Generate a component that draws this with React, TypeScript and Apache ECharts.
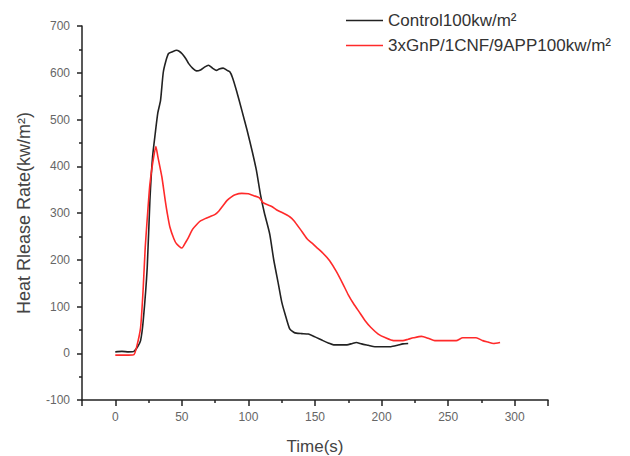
import React, { useEffect, useRef } from "react";
import * as echarts from "echarts";

const controlTime = [0, 5, 10, 14, 17, 19, 21, 24, 26, 28, 30, 32, 34, 36, 38, 40, 43, 46, 48, 50, 53, 55, 58, 61, 64, 67, 70, 73, 76, 78, 81, 84, 86, 88, 91, 95, 99, 103, 106, 109, 112, 116, 119, 122.5, 125, 127.5, 131, 134, 136, 140, 145, 150, 156, 160, 164, 170, 174, 178, 181, 185, 190, 195, 200, 207, 212, 216, 220];
const controlHRR = [3, 4, 3, 4, 15, 27, 70, 184, 327, 420, 470, 515, 541, 600, 625, 641, 645, 648, 646, 641, 630, 620, 610, 604, 606, 612, 616, 610, 605, 608, 610, 605, 602, 590, 562, 520, 477, 430, 391, 340, 300, 255, 200, 148, 110, 84, 52, 45, 43, 42, 41, 35, 27, 22, 18, 18, 18, 21, 23, 20, 17, 14, 14, 14, 17, 20, 21];

const compTime = [0, 5, 10, 14, 16, 19, 21, 22.5, 25, 26, 28, 30.5, 32, 35, 37.5, 39, 41, 44, 46, 50, 53, 55, 58, 61, 64, 67.5, 71, 75, 78, 81, 84, 87, 90, 95, 100, 104, 108, 111, 114, 117.5, 121, 126, 131, 134, 139, 144, 148, 151, 156, 161, 166, 171, 175, 179, 184, 187.5, 192, 197.5, 203, 209, 216, 220, 224, 230, 235, 240, 248, 256, 261, 266, 271, 276, 280, 284, 289];
const compHRR = [-4, -4, -4, -3, 13, 55, 141, 227, 327, 362, 405, 442, 420, 377, 327, 300, 270, 245, 234, 225, 238, 248, 265, 275, 283, 288, 292, 297, 305, 316, 327, 334, 339, 342, 341, 337, 333, 322, 318, 314, 307, 300, 292, 284, 265, 245, 235, 227, 214, 198, 175, 148, 125, 106, 85, 70, 55, 41, 33, 27, 27, 30, 33, 36, 32, 27, 27, 27, 33, 33, 33, 27, 24, 21, 23];

const seriesNames = ["Control100kw/m²", "3xGnP/1CNF/9APP100kw/m²"];
const yTitle = "Heat Rlease Rate(kw/m²)";
const xTitle = "Time(s)";

const FONT = "Liberation Sans, Arial, sans-serif";

export default function App() {
  const ref = useRef<HTMLDivElement>(null);
  useEffect(() => {
    if (!ref.current) return;
    const chart = echarts.init(ref.current, undefined, { renderer: "svg" });
    const pair = (t: number[], v: number[]) => t.map((x, i) => [x, v[i]]);
    chart.setOption({
      animation: false,
      backgroundColor: "#ffffff",
      textStyle: { fontFamily: FONT },
      grid: { left: 82, right: 82, top: 26, bottom: 56, containLabel: false, outerBoundsMode: "none" },
      legend: {
        orient: "vertical",
        left: 346,
        top: 12,
        padding: 0,
        icon: "rect",
        itemWidth: 37,
        itemHeight: 1.6,
        itemGap: 8,
        textStyle: { fontFamily: FONT, fontSize: 17, color: "#333" },
        data: seriesNames,
      },
      xAxis: {
        type: "value",
        min: -25,
        max: 325,
        splitNumber: 7,
        name: xTitle,
        nameLocation: "middle",
        nameGap: 38,
        nameTextStyle: { fontFamily: FONT, fontSize: 17, color: "#444" },
        axisLine: { show: true, onZero: false, lineStyle: { color: "#222", width: 1.5 } },
        axisTick: { show: true, inside: false, length: 6, lineStyle: { color: "#222", width: 1.5 } },
        minorTick: { show: true, splitNumber: 2, length: 3, lineStyle: { color: "#222", width: 1.5 } },
        axisLabel: { showMinLabel: false, showMaxLabel: false, margin: 11, fontSize: 12, color: "#666", fontFamily: FONT },
        splitLine: { show: false },
      },
      yAxis: {
        type: "value",
        min: -100,
        max: 700,
        interval: 100,
        name: yTitle,
        nameLocation: "middle",
        nameGap: 49,
        nameRotate: 90,
        nameTextStyle: { fontFamily: FONT, fontSize: 18, color: "#444" },
        axisLine: { show: true, onZero: false, lineStyle: { color: "#222", width: 1.5 } },
        axisTick: { show: true, inside: false, length: 5, lineStyle: { color: "#222", width: 1.5 } },
        minorTick: { show: true, splitNumber: 2, length: 3, lineStyle: { color: "#222", width: 1.5 } },
        axisLabel: { margin: 12, fontSize: 12, color: "#666", fontFamily: FONT },
        splitLine: { show: false },
      },
      series: [
        {
          name: seriesNames[0],
          type: "line",
          symbol: "none",
          smooth: 0.2,
          data: pair(controlTime, controlHRR),
          lineStyle: { color: "#222", width: 1.6 },
          itemStyle: { color: "#222" },
        },
        {
          name: seriesNames[1],
          type: "line",
          symbol: "none",
          smooth: 0.2,
          data: pair(compTime, compHRR),
          lineStyle: { color: "#ff2a2a", width: 1.6 },
          itemStyle: { color: "#ff2a2a" },
        },
      ],
    });
    return () => chart.dispose();
  }, []);
  return (
    <div
      ref={ref}
      style={{ position: "fixed", left: 0, top: 0, width: 630, height: 456, background: "#fff" }}
    />
  );
}
